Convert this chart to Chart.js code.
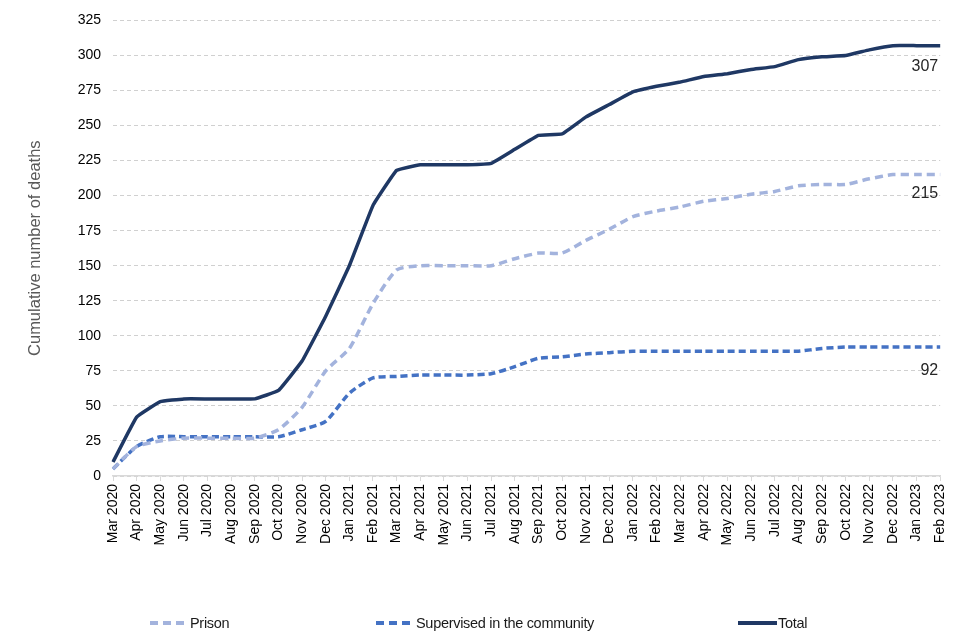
<!DOCTYPE html>
<html>
<head>
<meta charset="utf-8">
<title>Cumulative deaths</title>
<script src="https://cdn.jsdelivr.net/npm/chart.js@4/dist/chart.umd.min.js"></script>
<style>
  body { margin: 0; background: #fff; font-family: "Liberation Sans", Arial, sans-serif; }
  #wrap { position: relative; width: 960px; height: 640px; }
  canvas { position: absolute; left: 0; top: 0; }
  .lg { position: absolute; top: 613px; height: 20px; display: flex; align-items: center;
        font-family: "Liberation Sans", Arial, sans-serif; letter-spacing: -0.3px;
        font-size: 14.5px; color: #1a1a1a; white-space: nowrap; }
</style>
</head>
<body>
<div id="wrap">
  <canvas id="myChart" width="960" height="640"></canvas>
  <div class="lg" style="left:149px"><svg width="35" height="6" style="margin-right:6px"><line x1="1" y1="3" x2="35" y2="3" stroke="#a3b3dd" stroke-width="4" stroke-dasharray="8,5"/></svg>Prison</div>
  <div class="lg" style="left:375px"><svg width="35" height="6" style="margin-right:6px"><line x1="1" y1="3" x2="35" y2="3" stroke="#4472c4" stroke-width="4" stroke-dasharray="8,5"/></svg>Supervised in the community</div>
  <div class="lg" style="left:738px"><svg width="39" height="6" style="margin-right:1px"><line x1="0" y1="3" x2="39" y2="3" stroke="#1f3864" stroke-width="4"/></svg>Total</div>
</div>

<script>
var months = ['Mar 2020','Apr 2020','May 2020','Jun 2020','Jul 2020','Aug 2020','Sep 2020','Oct 2020','Nov 2020','Dec 2020',
  'Jan 2021','Feb 2021','Mar 2021','Apr 2021','May 2021','Jun 2021','Jul 2021','Aug 2021','Sep 2021','Oct 2021','Nov 2021','Dec 2021',
  'Jan 2022','Feb 2022','Mar 2022','Apr 2022','May 2022','Jun 2022','Jul 2022','Aug 2022','Sep 2022','Oct 2022','Nov 2022','Dec 2022',
  'Jan 2023','Feb 2023'];

var prison     = [5, 21, 25, 27, 27, 27, 27, 33, 49, 75, 91, 123, 147, 150, 150, 150, 150, 155, 159, 159, 168, 176,
                  185, 189, 192, 196, 198, 201, 203, 207, 208, 208, 212, 215, 215, 215];
var supervised = [5, 21, 28, 28, 28, 28, 28, 28, 33, 39, 59, 70, 71, 72, 72, 72, 73, 78, 84, 85, 87, 88,
                  89, 89, 89, 89, 89, 89, 89, 89, 91, 92, 92, 92, 92, 92];
var total      = [10, 42, 53, 55, 55, 55, 55, 61, 82, 114, 150, 193, 218, 222, 222, 222, 223, 233, 243, 244, 256, 265,
                  274, 278, 281, 285, 287, 290, 292, 297, 299, 300, 304, 307, 307, 307];

// draws the final value under the end of each line
var endLabels = {
  id: 'endLabels',
  afterDatasetsDraw: function(chart) {
    var ctx = chart.ctx;
    ctx.save();
    ctx.font = '16px "Liberation Sans", Arial, sans-serif';
    ctx.fillStyle = '#262626';
    ctx.textAlign = 'right';
    ctx.textBaseline = 'middle';
    chart.data.datasets.forEach(function(ds, i) {
      var pts = chart.getDatasetMeta(i).data;
      var p = pts[pts.length - 1];
      ctx.fillText(ds.data[ds.data.length - 1], p.x - 2, p.y + ds.endLabelDy);
    });
    ctx.restore();
  }
};

var ctx = document.getElementById('myChart').getContext('2d');
new Chart(ctx, {
  type: 'line',
  data: {
    labels: months,
    datasets: [
      { label: 'Prison', data: prison, borderColor: '#a3b3dd', borderWidth: 3.5, borderDash: [8, 5],
        pointRadius: 0, tension: 0.2, endLabelDy: 19 },
      { label: 'Supervised in the community', data: supervised, borderColor: '#4472c4', borderWidth: 3.5, borderDash: [7, 4],
        pointRadius: 0, tension: 0.2, endLabelDy: 24 },
      { label: 'Total', data: total, borderColor: '#1f3864', borderWidth: 3.5,
        pointRadius: 0, tension: 0.08, endLabelDy: 21 }
    ]
  },
  options: {
    responsive: false,
    animation: false,
    layout: { padding: { top: 17, right: 13, bottom: 64, left: 0 } },
    plugins: { legend: { display: false }, tooltip: { enabled: false } },
    scales: {
      x: {
        offset: false,
        afterFit: function(s) { s.height = 100; },
        grid: { drawOnChartArea: false, drawTicks: true, tickLength: 5, color: '#d9d9d9' },
        border: { color: '#d9d9d9', width: 1.5 },
        ticks: { autoSkip: false, maxRotation: 90, minRotation: 90, padding: 3,
                 color: '#000', font: { family: '"Liberation Sans", Arial, sans-serif', size: 14 } }
      },
      y: {
        min: 0, max: 325,
        afterFit: function(s) { s.width = 113; },
        grid: { color: '#d0d0d0', drawTicks: false, lineWidth: 1 },
        border: { display: false, dash: [4, 3] },
        ticks: { stepSize: 25, padding: 12, color: '#000',
                 font: { family: '"Liberation Sans", Arial, sans-serif', size: 14 } },
        title: { display: true, text: 'Cumulative number of deaths', color: '#595959', padding: { top: 26, bottom: 0 },
                 font: { family: '"Liberation Sans", Arial, sans-serif', size: 16.5 } }
      }
    }
  },
  plugins: [endLabels]
});
</script>
</body>
</html>
